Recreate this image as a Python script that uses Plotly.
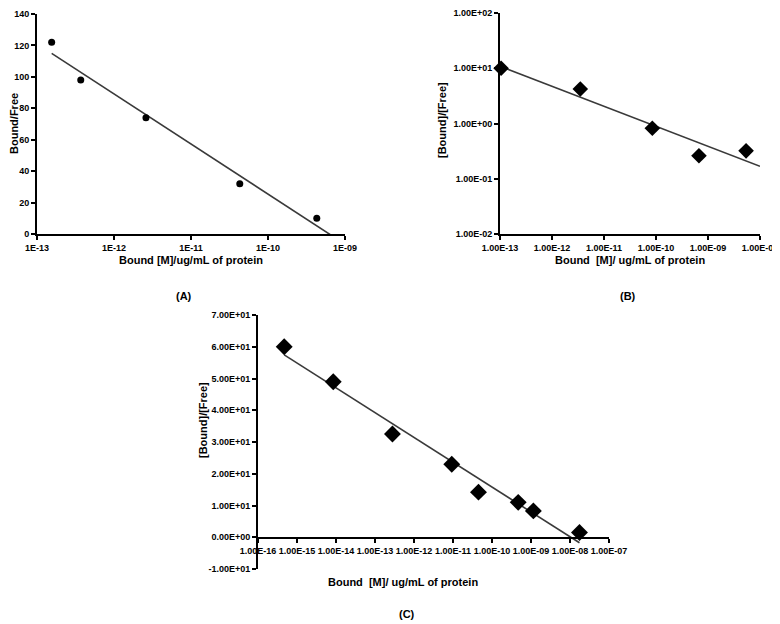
"""Scatchard-type binding plots (A), (B), (C) redrawn with Plotly."""

import numpy as np
import plotly.graph_objects as go

# ---- data ----
a_bound = [1.55e-13, 3.7e-13, 2.6e-12, 4.3e-11, 4.3e-10]
a_ratio = [122, 98, 74, 32, 10]

b_bound = [1.05e-13, 3.5e-12, 8.5e-11, 6.7e-10, 5.4e-09]
b_ratio = [10.0, 4.2, 0.82, 0.26, 0.32]

c_bound = [4.7e-16, 8.5e-15, 2.8e-13, 9.3e-12, 4.5e-11, 4.7e-10, 1.15e-09, 1.75e-08]
c_ratio = [60, 49, 32.5, 23, 14.2, 11, 8.3, 1.5]

a_xticks = [1e-13, 1e-12, 1e-11, 1e-10, 1e-09]
a_xlabels = ["1E-13", "1E-12", "1E-11", "1E-10", "1E-09"]
b_xticks = [1e-13, 1e-12, 1e-11, 1e-10, 1e-09, 1e-08]
b_xlabels = ["1.00E-13", "1.00E-12", "1.00E-11", "1.00E-10", "1.00E-09", "1.00E-08"]
b_yticks = [1e-02, 1e-01, 1e00, 1e01, 1e02]
b_ylabels = ["1.00E-02", "1.00E-01", "1.00E+00", "1.00E+01", "1.00E+02"]
c_xticks = [1e-16, 1e-15, 1e-14, 1e-13, 1e-12, 1e-11, 1e-10, 1e-09, 1e-08, 1e-07]
c_xlabels = ["1.00E-16", "1.00E-15", "1.00E-14", "1.00E-13", "1.00E-12",
             "1.00E-11", "1.00E-10", "1.00E-09", "1.00E-08", "1.00E-07"]
c_yticks = [-10, 0, 10, 20, 30, 40, 50, 60, 70]
c_ylabels = ["-1.00E+01", "0.00E+00", "1.00E+01", "2.00E+01", "3.00E+01",
             "4.00E+01", "5.00E+01", "6.00E+01", "7.00E+01"]

# page body keeps its default 8px margin, so the figure is drawn 8px in
OFF = 8
W, H = 780 - OFF, 624 - OFF
FONT = "Liberation Sans Narrow, Arial Narrow, Liberation Sans, Arial"
TICKFONT = dict(family=FONT, size=9, color="black", weight="bold")
LINE = "#3a3a3a"


def px_x(v):
    return (v - OFF) / W


def px_y(v):
    return 1 - (v - OFF) / H


def log_fit(x, y, x_end):
    # Excel-style logarithmic trendline (linear in log10 x)
    lx = np.log10(x)
    k, b = np.polyfit(lx, y, 1)
    xs = np.array([min(x), x_end])
    return xs, k * np.log10(xs) + b


def power_fit(x, y, x_start, x_end):
    lx, ly = np.log10(x), np.log10(y)
    k, b = np.polyfit(lx, ly, 1)
    xs = np.array([x_start, x_end])
    return xs, 10 ** (k * np.log10(xs) + b)


fig = go.Figure()

# (A)
ax, ay = log_fit(a_bound, a_ratio, 1e-09)
fig.add_trace(go.Scatter(x=ax, y=ay, mode="lines", line=dict(color=LINE, width=1.6),
                         xaxis="x", yaxis="y"))
fig.add_trace(go.Scatter(x=a_bound, y=a_ratio, mode="markers",
                         marker=dict(symbol="circle", size=7, color="black"),
                         xaxis="x", yaxis="y"))

# (B)
bx, by = power_fit(b_bound, b_ratio, 1e-13, 1e-08)
fig.add_trace(go.Scatter(x=bx, y=by, mode="lines", line=dict(color=LINE, width=1.6),
                         xaxis="x2", yaxis="y2"))
fig.add_trace(go.Scatter(x=b_bound, y=b_ratio, mode="markers",
                         marker=dict(symbol="diamond", size=12, color="black"),
                         xaxis="x2", yaxis="y2", cliponaxis=False))

# (C)
cx, cy = log_fit(c_bound, c_ratio, max(c_bound))
fig.add_trace(go.Scatter(x=cx, y=cy, mode="lines", line=dict(color=LINE, width=1.6),
                         xaxis="x3", yaxis="y3"))
fig.add_trace(go.Scatter(x=c_bound, y=c_ratio, mode="markers",
                         marker=dict(symbol="diamond", size=13, color="black"),
                         xaxis="x3", yaxis="y3", cliponaxis=False))

axis_style = dict(showline=True, linecolor="black", linewidth=2, showgrid=False,
                  zeroline=False, ticks="outside", ticklen=4, tickwidth=1.5,
                  tickcolor="black", tickfont=TICKFONT, tickangle=0, automargin=False)

fig.update_layout(
    width=W, height=H,
    margin=dict(l=0, r=0, t=0, b=0),
    paper_bgcolor="white", plot_bgcolor="white",
    showlegend=False,
    xaxis=dict(domain=[px_x(37), px_x(345)], anchor="y", type="log", range=[-13, -9],
               tickvals=a_xticks, ticktext=a_xlabels, **axis_style),
    yaxis=dict(domain=[px_y(234), px_y(14)], anchor="x", range=[0, 140], dtick=20,
               **axis_style),
    xaxis2=dict(domain=[px_x(500), px_x(760)], anchor="y2", type="log", range=[-13, -8],
                tickvals=b_xticks, ticktext=b_xlabels, **axis_style),
    yaxis2=dict(domain=[px_y(234), px_y(13)], anchor="x2", type="log", range=[-2, 2],
                tickvals=b_yticks, ticktext=b_ylabels, **axis_style),
    xaxis3=dict(domain=[px_x(258), px_x(609)], anchor="free", position=px_y(538),
                type="log", range=[-16, -7], tickvals=c_xticks, ticktext=c_xlabels,
                **axis_style),
    yaxis3=dict(domain=[px_y(569), px_y(315)], anchor="x3", range=[-10, 70],
                tickvals=c_yticks, ticktext=c_ylabels, **axis_style),
)

title_font = dict(family=FONT, size=11, color="black", weight="bold")
notes = [
    ("Bound/Free", 14, 124, -90),
    ("Bound [M]/ug/mL of protein", 191, 260, 0),
    ("[Bound]/[Free]", 442, 120, -90),
    ("Bound  [M]/ ug/mL of protein", 630, 260, 0),
    ("[Bound]/[Free]", 203, 420, -90),
    ("Bound  [M]/ ug/mL of protein", 403, 582, 0),
    ("(A)", 184, 296, 0),
    ("(B)", 628, 296, 0),
    ("(C)", 407, 614, 0),
]
for text, x, y, ang in notes:
    fig.add_annotation(x=px_x(x), y=px_y(y), xref="paper", yref="paper", text=text,
                       showarrow=False, textangle=ang, font=title_font,
                       xanchor="center", yanchor="middle")

fig.write_html("out.html")
